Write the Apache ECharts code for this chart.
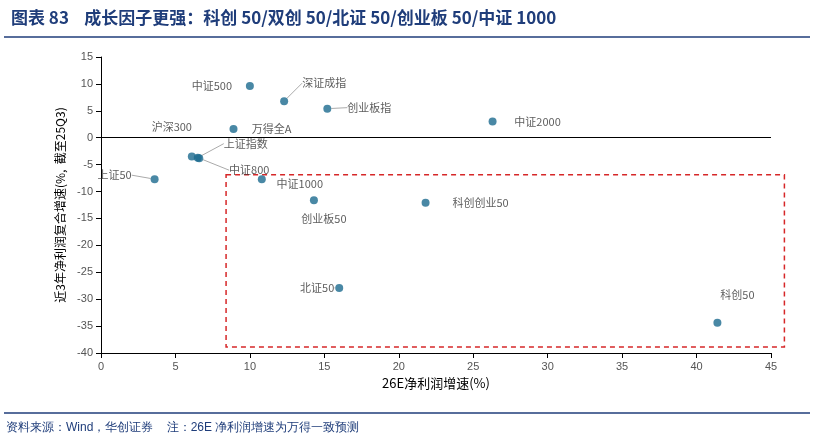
<!DOCTYPE html>
<html><head><meta charset="utf-8">
<script src="https://cdn.jsdelivr.net/npm/echarts@6/dist/echarts.min.js"></script>
<style>body{margin:0;background:#fff}#c{width:814px;height:446px}</style>
</head><body><div id="c"></div>
<script>
// 指数名称与数值
var names = ['中证500','深证成指','创业板指','中证2000','万得全A','沪深300','上证指数','中证800','上证50','中证1000','创业板50','科创创业50','北证50','科创50'];
var growth26E = [10.0, 12.3, 15.2, 26.3, 8.9, 6.1, 6.5, 6.6, 3.6, 10.8, 14.3, 21.8, 16.0, 41.4];
var cagr3y = [9.6, 6.8, 5.4, 3.0, 1.6, -3.5, -3.7, -3.8, -7.7, -7.7, -11.6, -12.1, -27.9, -34.4];
// 标签偏移 [dx, dy, 是否画引线]
var labelOffsets = [[-38,0,0],[40,-18,1],[42,-1,1],[45,0,0],[38,0,0],[-20,-30,0],[48,-14,1],[50,12,1],[-40,-4,1],[38,5,0],[10,19,0],[55,0,0],[-22,0,1],[20,-28,0]];

var chart = echarts.init(document.getElementById('c'));
var data = names.map(function(n, i){
    var o = labelOffsets[i];
    return {
        name: n, value: [growth26E[i], cagr3y[i]],
        label: {show: true, formatter: n, position: 'inside', offset: [o[0], o[1]]},
        labelLine: {show: !!o[2]}
    };
});
chart.setOption({
    animation: false,
    title: {
        text: '图表 83    成长因子更强：科创 50/双创 50/北证 50/创业板 50/中证 1000',
        left: 6, top: 4,
        textStyle: {fontFamily: 'Noto Sans CJK SC', fontSize: 17, fontWeight: 'bold', color: '#1f3d7a'}
    },
    grid: {left: 101, right: 43, top: 57, bottom: 93},
    xAxis: {
        type: 'value', min: 0, max: 45, interval: 5,
        name: '26E净利润增速(%)', nameLocation: 'middle', nameGap: 22,
        nameTextStyle: {fontSize: 13, color: '#000', fontFamily: 'Noto Sans CJK SC'},
        axisLine: {onZero: false, lineStyle: {color: '#000'}},
        axisTick: {show: true, inside: false, lineStyle: {color: '#000'}},
        axisLabel: {color: '#555', fontSize: 11},
        splitLine: {show: false}
    },
    yAxis: {
        type: 'value', min: -40, max: 15, interval: 5,
        name: '近3年净利润复合增速(%,  截至25Q3)', nameLocation: 'middle', nameGap: 30,
        nameTextStyle: {fontSize: 12, color: '#000', fontFamily: 'Noto Sans CJK SC'},
        axisLine: {show: true, lineStyle: {color: '#000'}},
        axisTick: {show: true, lineStyle: {color: '#000'}},
        axisLabel: {color: '#555', fontSize: 11},
        splitLine: {show: false}
    },
    series: [{
        type: 'scatter', symbolSize: 8, clip: false,
        itemStyle: {color: '#1c6a8f'},
        label: {color: '#333', fontSize: 11, fontFamily: 'Noto Sans CJK SC'},
        labelLine: {lineStyle: {color: '#aaa', width: 1}},
        data: data,
        markLine: {
            silent: true, symbol: 'none', label: {show: false},
            lineStyle: {color: '#000', type: 'solid', width: 1},
            data: [{yAxis: 0}]
        }
    }],
    graphic: [
        {type: 'line', shape: {x1: 4, y1: 37, x2: 810, y2: 37}, style: {stroke: '#1f3d7a', lineWidth: 1.5}},
        {type: 'line', shape: {x1: 4, y1: 413, x2: 810, y2: 413}, style: {stroke: '#1f3d7a', lineWidth: 1.5}},
        {type: 'text', left: 6, top: 422, style: {text: '资料来源：Wind，华创证券    注：26E 净利润增速为万得一致预测', font: 'italic 13px "Noto Sans CJK SC"', fill: '#1f3d7a'}}
    ]
});
// 红色虚线框
var p1 = chart.convertToPixel({gridIndex: 0}, [8.4, -6.9]);
var p2 = chart.convertToPixel({gridIndex: 0}, [45.9, -38.9]);
chart.setOption({graphic: [{}, {}, {}, {
    type: 'rect', z: 1,
    shape: {x: p1[0], y: p1[1], width: p2[0] - p1[0], height: p2[1] - p1[1]},
    style: {fill: 'none', stroke: '#d62728', lineWidth: 1.5, lineDash: [5, 4]}
}]});
</script></body></html>
